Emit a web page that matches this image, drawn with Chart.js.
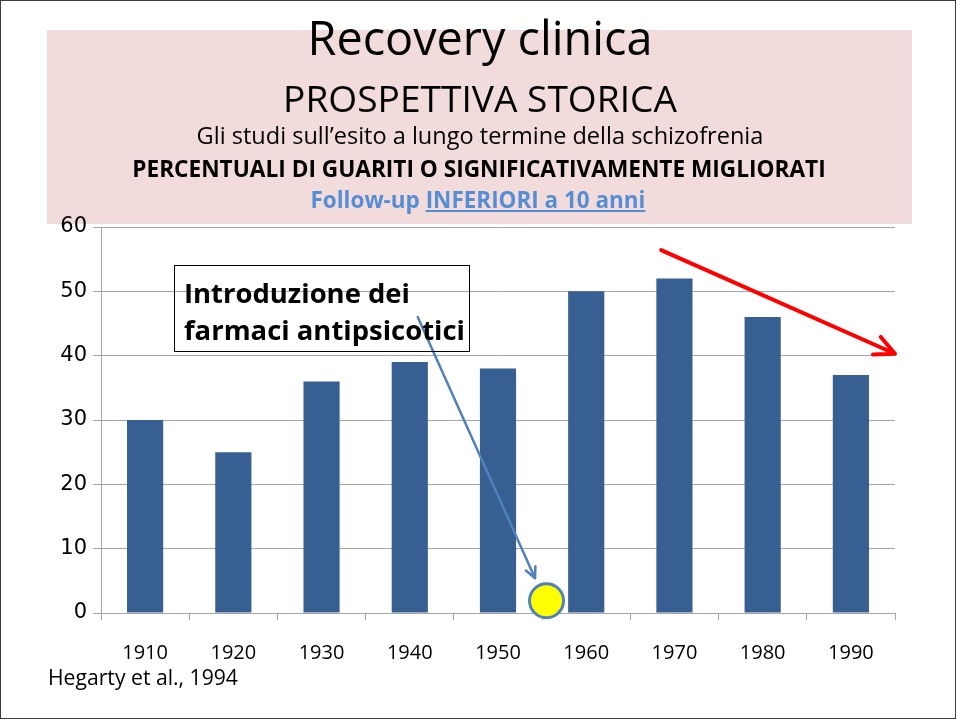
<!DOCTYPE html>
<html>
<head>
<meta charset="utf-8">
<script src="https://cdn.jsdelivr.net/npm/chart.js@4.4.1/dist/chart.umd.min.js"></script>
<style>
html, body { margin: 0; padding: 0; background: #fff; }
#slide { position: relative; width: 957px; height: 720px; overflow: hidden; }
#band { position: absolute; left: 47px; top: 30px; width: 865px; height: 194px; background: #f2dcdb; }
#frame { position: absolute; left: 0; top: 0; width: 956px; height: 719px; border: 1px solid #3c3c3c; box-sizing: border-box; pointer-events: none; }
#chart { position: absolute; left: 0; top: 0; }
.t { position: absolute; white-space: nowrap; font-family: "Open Sans"; color: #000; line-height: 1; }
.b { font-weight: bold; }
#note { position: absolute; left: 174px; top: 265px; width: 296px; height: 87px; border: 1.5px solid #000; box-sizing: border-box; }
</style>
</head>
<body>
<div id="slide">
  <div id="band"></div>
  <canvas id="chart" width="957" height="720"></canvas>
  <div id="note"></div>
  <div class="t" id="t1">Recovery clinica</div>
  <div class="t" id="t2">PROSPETTIVA STORICA</div>
  <div class="t" id="t3">Gli studi sull’esito a lungo termine della schizofrenia</div>
  <div class="t b" id="t4">PERCENTUALI DI GUARITI O SIGNIFICATIVAMENTE MIGLIORATI</div>
  <div class="t b" id="t5" style="color:#558ed5">Follow-up <span style="text-decoration:underline">INFERIORI a 10 anni</span></div>
  <div class="t b" id="n1">Introduzione dei</div>
  <div class="t b" id="n2">farmaci antipsicotici</div>
  <div class="t" id="src">Hegarty et al., 1994</div>
  <div id="frame"></div>
</div>
<script>
// decades and % of recovered / significantly improved
const years = ['1910', '1920', '1930', '1940', '1950', '1960', '1970', '1980', '1990'];
const recovered = [30, 25, 36, 39, 38, 50, 52, 46, 37];
const yTicks = [0, 10, 20, 30, 40, 50, 60];

// size a text so it spans a given width, then put its baseline at y
function place(id, x, baseline, width, align, size) {
    var el = document.getElementById(id);
    var s = size || 30;
    el.style.fontSize = s + 'px';
    if (!size) {
        s = s * width / el.getBoundingClientRect().width;
        el.style.fontSize = s + 'px';
    }
    var w = el.getBoundingClientRect().width;
    el.style.left = (align === 'center' ? x - w / 2 : x) + 'px';
    el.style.top = (baseline - 0.888 * s) + 'px';
    return s;
}

place('t1', 480, 56, 345, 'center');
place('t2', 480, 112, 394, 'center');
place('t3', 480, 145, 567, 'center');
place('t4', 479, 178, 694, 'center');
place('t5', 478, 209, 335, 'center');
var ns = place('n2', 184, 340, 281, 'left');
place('n1', 184, 303, 0, 'left', ns);
place('src', 48, 685, 190, 'left');

function arrow(ctx, x1, y1, x2, y2, color, width, head) {
    var a = Math.atan2(y2 - y1, x2 - x1);
    ctx.save();
    ctx.strokeStyle = color;
    ctx.lineWidth = width;
    ctx.lineCap = 'round';
    ctx.lineJoin = 'round';
    ctx.beginPath();
    ctx.moveTo(x1, y1);
    ctx.lineTo(x2, y2);
    ctx.moveTo(x2 - head * Math.cos(a - 0.45), y2 - head * Math.sin(a - 0.45));
    ctx.lineTo(x2, y2);
    ctx.lineTo(x2 - head * Math.cos(a + 0.45), y2 - head * Math.sin(a + 0.45));
    ctx.stroke();
    ctx.restore();
}

const marks = {
    id: 'marks',
    afterDatasetsDraw(chart) {
        var ctx = chart.ctx, x = chart.scales.x, y = chart.scales.y;
        // blue arrow from the note box down to the 1950s
        arrow(ctx, x.getPixelForValue(3.09), y.getPixelForValue(46),
              x.getPixelForValue(4.42), y.getPixelForValue(5.4), '#4f81bd', 2.5, 12);
        // red trend arrow
        arrow(ctx, x.getPixelForValue(5.85), y.getPixelForValue(56.4),
              x.getPixelForValue(8.5), y.getPixelForValue(40.3), '#ff0000', 4, 22);
        // yellow dot
        ctx.save();
        ctx.beginPath();
        ctx.arc(x.getPixelForValue(4.55), y.getPixelForValue(1.9), 17, 0, Math.PI * 2);
        ctx.fillStyle = '#ffff00';
        ctx.fill();
        ctx.lineWidth = 3;
        ctx.strokeStyle = '#4f81bd';
        ctx.stroke();
        ctx.restore();
    }
};

new Chart(document.getElementById('chart').getContext('2d'), {
    type: 'bar',
    data: {
        labels: years,
        datasets: [{
            data: recovered,
            backgroundColor: '#375f92',
            barPercentage: 0.41,
            categoryPercentage: 1.0
        }]
    },
    options: {
        responsive: false,
        animation: false,
        events: [],
        layout: { padding: { left: 0, top: 227, right: 62, bottom: 47 } },
        plugins: { legend: { display: false }, tooltip: { enabled: false } },
        scales: {
            x: {
                afterFit: function (s) { s.height = 60; },
                grid: { offset: true, drawOnChartArea: false, tickLength: 7, color: '#a6a6a6' },
                border: { color: '#a6a6a6' },
                ticks: { color: '#000', padding: 21, font: { family: 'Open Sans', size: 20 } }
            },
            y: {
                min: 0,
                max: 60,
                afterFit: function (s) { s.width = 101; },
                afterBuildTicks: function (s) { s.ticks = yTicks.map(v => ({ value: v })); },
                grid: { color: '#a6a6a6', tickLength: 8 },
                border: { color: '#a6a6a6' },
                ticks: { color: '#000', padding: 6, font: { family: 'DejaVu Sans', size: 21 } }
            }
        }
    },
    plugins: [marks]
});
</script>
</body>
</html>
